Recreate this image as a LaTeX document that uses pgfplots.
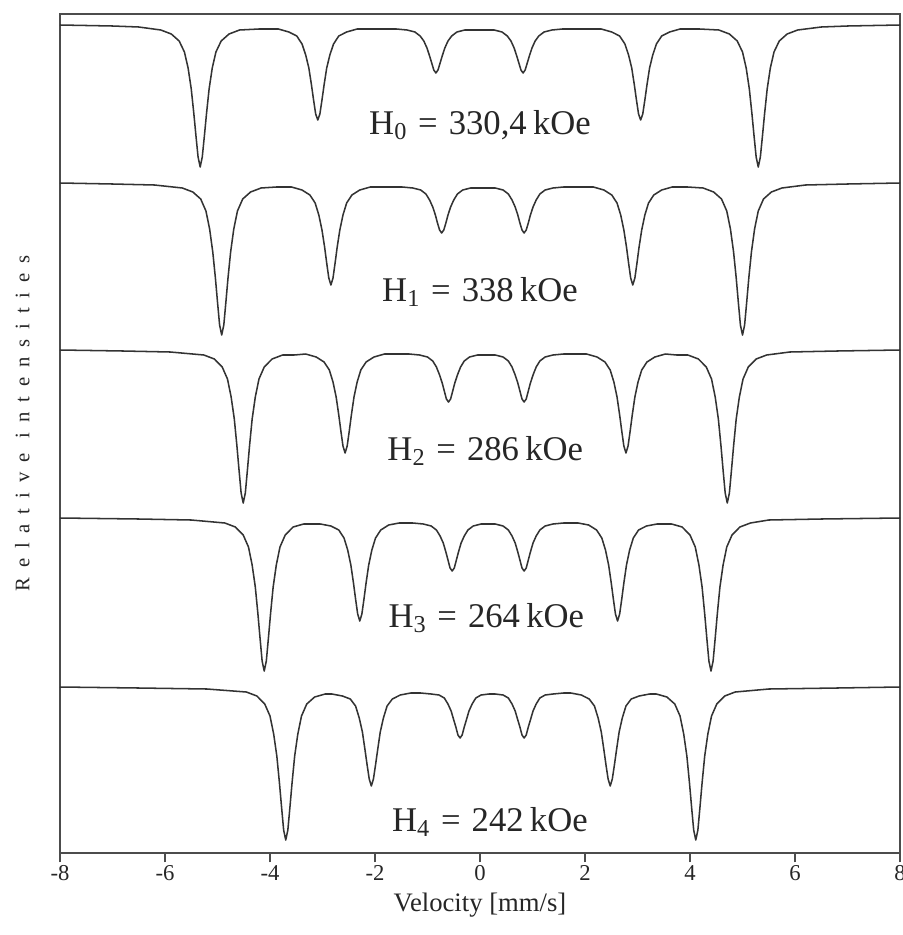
\documentclass[border=0pt]{standalone}
\usepackage{fontspec}
\setmainfont{Liberation Serif}
\usepackage{pgfplots}
\pgfplotsset{compat=1.18}
\newcommand{\Hlab}[2]{H\textsubscript{#1}\hspace{0.32em}=\hspace{0.32em}#2\hspace{0.18em}kOe}
\begin{document}
\begin{tikzpicture}
\begin{axis}[
  width=630pt, height=629.25pt, scale only axis,
  xmin=-8, xmax=8, ymin=14, ymax=853, y dir=reverse,
  axis line style={draw=black!70, line width=1.2pt},
  ytick=\empty,
  xtick={-8,-6,-4,-2,0,2,4,6,8},
  xticklabels={-8,-6,-4,-2,0,2,4,6,8},
  xtick pos=left, tick align=outside, major tick length=7pt,
  xtick style={draw=black!70, line width=1.1pt},
  xticklabel style={font=\fontsize{17}{20}\selectfont, text=black!85, yshift=1pt},
  xlabel={Velocity [mm/s]},
  xlabel style={font=\fontsize{20}{24}\selectfont, text=black!85, yshift=-2pt},
  ylabel={\addfontfeatures{LetterSpace=48}Relative intensities},
  ylabel style={at={(axis description cs:-0.045,0.512)}, anchor=center, font=\fontsize{15.5}{18}\selectfont, text=black!85},
]
% H0 spectrum
\addplot[black!80, line width=1.15pt, line join=round] coordinates {
(-8,25) (-7,26) (-6.5,27)
(-6.08,30) (-5.88,34) (-5.73,41) (-5.63,52) (-5.56,68) (-5.50,89) (-5.45,114) (-5.41,136) (-5.37,157) (-5.33,167) (-5.29,157) (-5.25,136) (-5.21,114) (-5.16,89) (-5.10,68) (-5.03,52) (-4.93,41) (-4.78,34) (-4.58,30)
(-4.21,29)
(-3.84,29) (-3.64,32) (-3.49,36) (-3.39,44) (-3.32,55) (-3.26,68) (-3.21,85) (-3.17,100) (-3.13,114) (-3.09,120) (-3.05,114) (-3.01,100) (-2.97,85) (-2.92,68) (-2.86,55) (-2.79,44) (-2.69,36) (-2.54,32) (-2.34,29)
(-1.97,29)
(-1.59,29) (-1.39,30) (-1.24,32) (-1.14,36) (-1.07,41) (-1.01,48) (-0.96,56) (-0.92,63) (-0.88,70) (-0.84,73) (-0.80,70) (-0.76,63) (-0.72,56) (-0.67,48) (-0.61,41) (-0.54,36) (-0.44,32) (-0.29,30) (-0.09,30)
(-0.01,30)
(0.07,30) (0.27,30) (0.42,32) (0.52,36) (0.59,41) (0.65,48) (0.70,56) (0.74,63) (0.78,70) (0.82,73) (0.86,70) (0.90,63) (0.94,56) (0.99,48) (1.05,41) (1.12,36) (1.22,32) (1.37,30) (1.57,29)
(1.94,29)
(2.31,29) (2.51,32) (2.66,36) (2.76,44) (2.83,55) (2.89,68) (2.94,85) (2.98,100) (3.02,114) (3.06,120) (3.10,114) (3.14,100) (3.18,85) (3.23,68) (3.29,55) (3.36,44) (3.46,36) (3.61,32) (3.81,29)
(4.18,29)
(4.55,30) (4.75,34) (4.90,41) (5.00,52) (5.07,68) (5.13,89) (5.18,114) (5.22,136) (5.26,157) (5.30,167) (5.34,157) (5.38,136) (5.42,114) (5.47,89) (5.53,68) (5.60,52) (5.70,41) (5.85,34) (6.05,30)
(6.5,27) (7,26) (8,25)
};
% H1 spectrum
\addplot[black!80, line width=1.15pt, line join=round] coordinates {
(-8,183) (-7,184) (-6.2,185)
(-5.67,188) (-5.47,192) (-5.32,199) (-5.22,211) (-5.15,229) (-5.09,252) (-5.04,278) (-5.00,302) (-4.96,325) (-4.92,335) (-4.88,325) (-4.84,302) (-4.80,278) (-4.75,252) (-4.69,229) (-4.62,211) (-4.52,199) (-4.37,192) (-4.17,188)
(-3.88,187)
(-3.59,187) (-3.39,190) (-3.24,195) (-3.14,203) (-3.07,215) (-3.01,230) (-2.96,247) (-2.92,263) (-2.88,278) (-2.84,285) (-2.80,278) (-2.76,263) (-2.72,247) (-2.67,230) (-2.61,215) (-2.54,203) (-2.44,195) (-2.29,190) (-2.09,187)
(-1.785,187)
(-1.48,187) (-1.28,188) (-1.13,190) (-1.03,194) (-0.96,200) (-0.90,207) (-0.85,215) (-0.81,223) (-0.77,230) (-0.73,233) (-0.69,230) (-0.65,223) (-0.61,215) (-0.56,207) (-0.50,200) (-0.43,194) (-0.33,190) (-0.18,188) (0.02,188)
(0.055,188)
(0.09,188) (0.29,188) (0.44,190) (0.54,194) (0.61,200) (0.67,207) (0.72,215) (0.76,223) (0.80,230) (0.84,233) (0.88,230) (0.92,223) (0.96,215) (1.01,207) (1.07,200) (1.14,194) (1.24,190) (1.39,188) (1.59,187)
(1.875,187)
(2.16,187) (2.36,190) (2.51,195) (2.61,203) (2.68,215) (2.74,230) (2.79,247) (2.83,263) (2.87,278) (2.91,285) (2.95,278) (2.99,263) (3.03,247) (3.08,230) (3.14,215) (3.21,203) (3.31,195) (3.46,190) (3.66,187)
(3.955,187)
(4.25,188) (4.45,192) (4.60,199) (4.70,211) (4.77,229) (4.83,252) (4.88,278) (4.92,302) (4.96,325) (5.00,335) (5.04,325) (5.08,302) (5.12,278) (5.17,252) (5.23,229) (5.30,211) (5.40,199) (5.55,192) (5.75,188)
(6.2,185) (7,184) (8,183)
};
% H2 spectrum
\addplot[black!80, line width=1.15pt, line join=round] coordinates {
(-8,350) (-6.8,351) (-5.9,352)
(-5.26,355) (-5.06,359) (-4.91,367) (-4.81,379) (-4.74,397) (-4.68,419) (-4.63,446) (-4.59,470) (-4.55,493) (-4.51,503) (-4.47,493) (-4.43,470) (-4.39,446) (-4.34,419) (-4.28,397) (-4.21,379) (-4.11,367) (-3.96,359) (-3.76,355)
(-3.54,355)
(-3.32,354) (-3.12,357) (-2.97,362) (-2.87,370) (-2.80,382) (-2.74,397) (-2.69,415) (-2.65,431) (-2.61,446) (-2.57,453) (-2.53,446) (-2.49,431) (-2.45,415) (-2.40,397) (-2.34,382) (-2.27,370) (-2.17,362) (-2.02,357) (-1.82,354)
(-1.585,354)
(-1.35,354) (-1.15,355) (-1.00,357) (-0.90,361) (-0.83,367) (-0.77,375) (-0.72,383) (-0.68,391) (-0.64,399) (-0.60,402) (-0.56,399) (-0.52,391) (-0.48,383) (-0.43,375) (-0.37,367) (-0.30,361) (-0.20,357) (-0.05,355)
(0.12,355)
(0.29,355) (0.44,357) (0.54,361) (0.61,367) (0.67,375) (0.72,383) (0.76,391) (0.80,399) (0.84,402) (0.88,399) (0.92,391) (0.96,383) (1.01,375) (1.07,367) (1.14,361) (1.24,357) (1.39,355) (1.59,354)
(1.81,354)
(2.03,354) (2.23,357) (2.38,362) (2.48,370) (2.55,382) (2.61,397) (2.66,415) (2.70,431) (2.74,446) (2.78,453) (2.82,446) (2.86,431) (2.90,415) (2.95,397) (3.01,382) (3.08,370) (3.18,362) (3.33,357) (3.53,354)
(3.745,355)
(3.96,355) (4.16,359) (4.31,367) (4.41,379) (4.48,397) (4.54,419) (4.59,446) (4.63,470) (4.67,493) (4.71,503) (4.75,493) (4.79,470) (4.83,446) (4.88,419) (4.94,397) (5.01,379) (5.11,367) (5.26,359) (5.46,355)
(5.9,352) (6.8,351) (8,350)
};
% H3 spectrum
\addplot[black!80, line width=1.15pt, line join=round] coordinates {
(-8,518) (-6.5,519) (-5.5,520)
(-4.86,523) (-4.66,527) (-4.51,535) (-4.41,547) (-4.34,565) (-4.28,587) (-4.23,614) (-4.19,638) (-4.15,661) (-4.11,671) (-4.07,661) (-4.03,638) (-3.99,614) (-3.94,587) (-3.88,565) (-3.81,547) (-3.71,535) (-3.56,527) (-3.36,524)
(-3.20,524)
(-3.04,524) (-2.84,526) (-2.69,530) (-2.59,538) (-2.52,550) (-2.46,565) (-2.41,583) (-2.37,599) (-2.33,614) (-2.29,621) (-2.25,614) (-2.21,599) (-2.17,583) (-2.12,565) (-2.06,550) (-1.99,538) (-1.89,530) (-1.74,525) (-1.54,523)
(-1.41,523)
(-1.28,523) (-1.08,524) (-0.93,526) (-0.83,530) (-0.76,536) (-0.70,543) (-0.65,552) (-0.61,560) (-0.57,568) (-0.53,571) (-0.49,568) (-0.45,560) (-0.41,552) (-0.36,543) (-0.30,536) (-0.23,530) (-0.13,526) (0.02,524)
(0.155,524)
(0.29,524) (0.44,526) (0.54,530) (0.61,536) (0.67,543) (0.72,552) (0.76,560) (0.80,568) (0.84,571) (0.88,568) (0.92,560) (0.96,552) (1.01,543) (1.07,536) (1.14,530) (1.24,526) (1.39,524) (1.59,523)
(1.73,523)
(1.87,523) (2.07,525) (2.22,530) (2.32,538) (2.39,550) (2.45,565) (2.50,583) (2.54,599) (2.58,614) (2.62,621) (2.66,614) (2.70,599) (2.74,583) (2.79,565) (2.85,550) (2.92,538) (3.02,530) (3.17,526) (3.37,524)
(3.51,524)
(3.65,524) (3.85,527) (4.00,535) (4.10,547) (4.17,565) (4.23,587) (4.28,614) (4.32,638) (4.36,661) (4.40,671) (4.44,661) (4.48,638) (4.52,614) (4.57,587) (4.63,565) (4.70,547) (4.80,535) (4.95,527) (5.15,523)
(5.5,520) (6.5,519) (8,518)
};
% H4 spectrum
\addplot[black!80, line width=1.15pt, line join=round] coordinates {
(-8,687) (-6.5,688) (-5.2,689)
(-4.45,692) (-4.25,696) (-4.10,704) (-4.00,716) (-3.93,734) (-3.87,756) (-3.82,783) (-3.78,807) (-3.74,830) (-3.70,840) (-3.66,830) (-3.62,807) (-3.58,783) (-3.53,756) (-3.47,734) (-3.40,716) (-3.30,704) (-3.15,697) (-2.95,694)
(-2.885,694)
(-2.82,694) (-2.62,696) (-2.47,699) (-2.37,706) (-2.30,718) (-2.24,732) (-2.19,750) (-2.15,765) (-2.11,779) (-2.07,786) (-2.03,779) (-1.99,765) (-1.95,750) (-1.90,732) (-1.84,718) (-1.77,706) (-1.67,699) (-1.52,695) (-1.32,693)
(-1.225,693)
(-1.13,693) (-0.93,694) (-0.78,695) (-0.68,698) (-0.61,704) (-0.55,711) (-0.50,720) (-0.46,727) (-0.42,735) (-0.38,738) (-0.34,735) (-0.30,727) (-0.26,720) (-0.21,711) (-0.15,704) (-0.08,698) (0.02,695) (0.17,694)
(0.23,694)
(0.29,694) (0.44,695) (0.54,698) (0.61,704) (0.67,711) (0.72,720) (0.76,727) (0.80,735) (0.84,738) (0.88,735) (0.92,727) (0.96,720) (1.01,711) (1.07,704) (1.14,698) (1.24,695) (1.39,694) (1.59,693)
(1.66,693)
(1.73,693) (1.93,695) (2.08,699) (2.18,706) (2.25,718) (2.31,732) (2.36,750) (2.40,765) (2.44,779) (2.48,786) (2.52,779) (2.56,765) (2.60,750) (2.65,732) (2.71,718) (2.78,706) (2.88,699) (3.03,696) (3.23,694)
(3.295,694)
(3.36,694) (3.56,697) (3.71,704) (3.81,716) (3.88,734) (3.94,756) (3.99,783) (4.03,807) (4.07,830) (4.11,840) (4.15,830) (4.19,807) (4.23,783) (4.28,756) (4.34,734) (4.41,716) (4.51,704) (4.66,696) (4.86,692)
(5.5,689) (6.8,688) (8,687)
};
\node[font=\fontsize{26}{30}\selectfont, text=black!85] at (axis cs:0,125) {\Hlab{0}{330,4}};
\node[font=\fontsize{26}{30}\selectfont, text=black!85] at (axis cs:0,292) {\Hlab{1}{338}};
\node[font=\fontsize{26}{30}\selectfont, text=black!85] at (axis cs:0.1,451) {\Hlab{2}{286}};
\node[font=\fontsize{26}{30}\selectfont, text=black!85] at (axis cs:0.12,618) {\Hlab{3}{264}};
\node[font=\fontsize{26}{30}\selectfont, text=black!85] at (axis cs:0.19,822) {\Hlab{4}{242}};
\coordinate (bl) at (axis description cs:0,0);
\coordinate (tr) at (axis description cs:1,1);
\end{axis}
\pgfresetboundingbox
\path[use as bounding box] ([shift={(-45pt,-61.5pt)}]bl) rectangle ([shift={(1.5pt,10.5pt)}]tr);
\end{tikzpicture}
\end{document}
